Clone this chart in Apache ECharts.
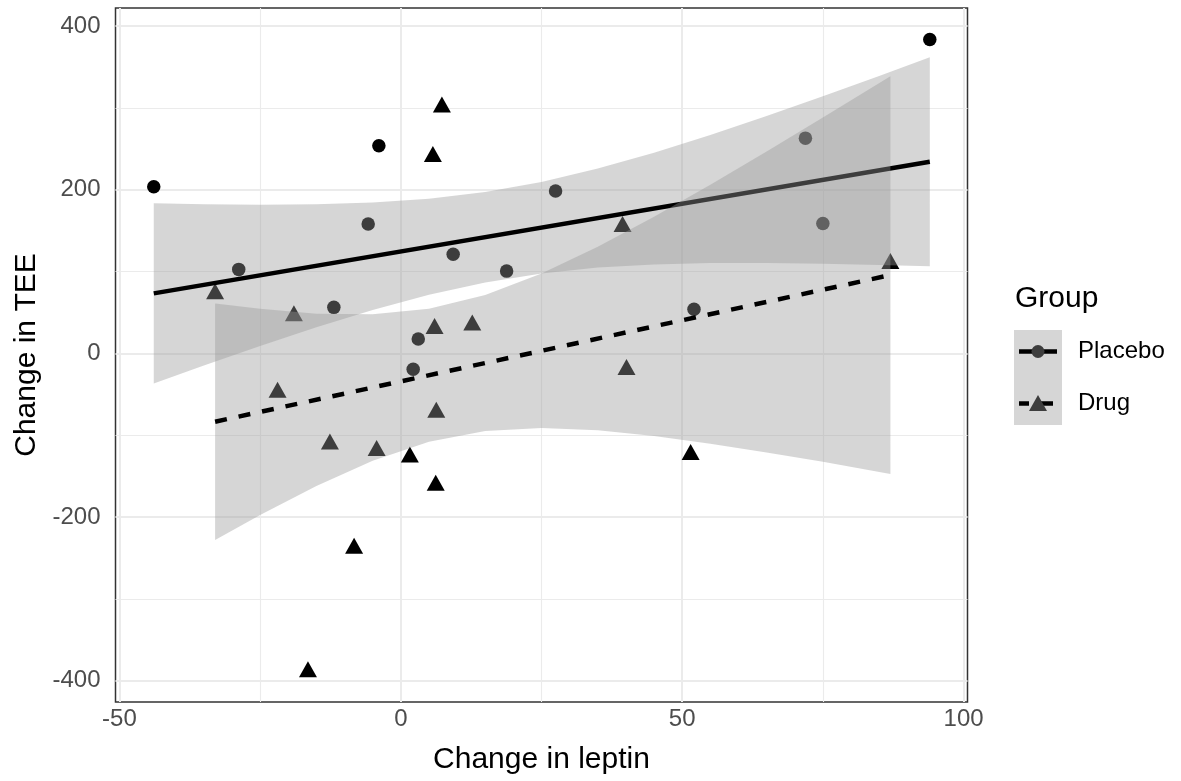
<!DOCTYPE html>
<html>
<head>
<meta charset="utf-8">
<script src="https://cdn.jsdelivr.net/npm/echarts@6/dist/echarts.min.js"></script>
<style>
  html, body { margin: 0; padding: 0; background: #fff; }
  #chart { width: 1181px; height: 781px; }
</style>
</head>
<body>
<div id="chart"></div>
<script>
// points
var placeboX = [-43.9, -28.8, -11.9, -3.9, -5.8, 9.3, 3.1, 2.2, 18.8, 27.5, 52.1, 71.9, 75.0, 94.0];
var placeboY = [203.5, 102.6, 56.2, 253.6, 158.0, 121.0, 17.5, -19.4, 100.5, 198.3, 53.8, 263.0, 158.8, 383.6];
var drugX = [7.3, 5.7, -33.0, -19.0, 6.0, 12.7, 39.4, 87.0, -21.9, 6.3, -12.6, -4.3, 1.6, 6.2, -8.3, -16.5, 40.1, 51.5];
var drugY = [304, 243.5, 76, 49, 33.4, 37.6, 158, 112.8, -44.6, -69, -107.8, -115.7, -123.6, -158.2, -235, -386, -16.7, -120.4];

// fitted lines (end points)
var placeboFitX = [-43.9, 94];
var placeboFitY = [73.3, 234.1];
var drugFitX = [-33, 87];
var drugFitY = [-83.5, 95.7];

// confidence bands
var placeboBandX = [-43.9, -35, -25, -15, -5, 5, 15, 25, 35, 45, 55, 65, 75, 85, 94];
var placeboLo = [-36.7, -14.8, 9.1, 31.9, 52.9, 71.6, 86.6, 97.7, 104.8, 108.6, 110.3, 110.4, 109.6, 108.0, 106.4];
var placeboHi = [183.3, 182.2, 181.5, 182.1, 184.3, 189.0, 197.2, 209.5, 225.8, 245.2, 266.9, 290.0, 314.2, 339.0, 361.8];
var drugBandX = [-33, -25, -15, -5, 5, 15, 25, 35, 45, 55, 65, 75, 87];
var drugLo = [-228, -197.6, -162.1, -131.1, -108, -94.9, -91.3, -94.1, -101, -110.3, -121, -132.5, -147.3];
var drugHi = [61, 54.4, 48.5, 47.9, 54.6, 71.3, 97.5, 130.3, 167, 206.1, 246.6, 288.1, 338.7];

// axis ticks
var xTicks = [-50, 0, 50, 100];
var yTicks = [-400, -200, 0, 200, 400];
var xMinor = [-25, 25, 75];
var yMinor = [-300, -100, 100, 300];

var FONT = 'Liberation Sans, Arial, sans-serif';
var ribbonFill = 'rgba(153,153,153,0.4)';

function zip (xs, ys) {
  return xs.map(function (x, i) { return [x, ys[i]]; });
}

function ribbon (xs, lo, hi, z) {
  return {
    type: 'custom',
    z: z,
    silent: true,
    data: [[xs[0], lo[0]]],
    renderItem: function (params, api) {
      var pts = [];
      for (var i = 0; i < xs.length; i++) pts.push(api.coord([xs[i], hi[i]]));
      for (var j = xs.length - 1; j >= 0; j--) pts.push(api.coord([xs[j], lo[j]]));
      return { type: 'polygon', shape: { points: pts }, style: { fill: ribbonFill } };
    }
  };
}

var gridLines = [];
xTicks.forEach(function (v) { gridLines.push({ xAxis: v, lineStyle: { width: 2 } }); });
yTicks.forEach(function (v) { gridLines.push({ yAxis: v, lineStyle: { width: 2 } }); });
xMinor.forEach(function (v) { gridLines.push({ xAxis: v, lineStyle: { width: 1.1 } }); });
yMinor.forEach(function (v) { gridLines.push({ yAxis: v, lineStyle: { width: 1.1 } }); });

var chart = echarts.init(document.getElementById('chart'));
chart.setOption({
  animation: false,
  grid: {
    left: 115.5, right: 213.5, top: 8, bottom: 79,
    show: true, backgroundColor: '#fff', borderColor: '#333', borderWidth: 1.5
  },
  xAxis: {
    type: 'value', min: -50.7, max: 100.7,
    name: 'Change in leptin', nameLocation: 'middle', nameGap: 43,
    nameTextStyle: { fontFamily: FONT, fontSize: 30, color: '#000' },
    axisLine: { show: false },
    axisTick: { show: true, length: 7, customValues: xTicks, lineStyle: { color: '#333', width: 1.5 } },
    axisLabel: { customValues: xTicks, fontFamily: FONT, fontSize: 24, color: '#4d4d4d', margin: 5 },
    splitLine: { show: false }
  },
  yAxis: {
    type: 'value', min: -426, max: 422,
    name: 'Change in TEE', nameLocation: 'middle', nameGap: 65,
    nameTextStyle: { fontFamily: FONT, fontSize: 30, color: '#000' },
    axisLine: { show: false },
    axisTick: { show: true, length: 7, customValues: yTicks, lineStyle: { color: '#333', width: 1.5 } },
    axisLabel: { customValues: yTicks, fontFamily: FONT, fontSize: 24, color: '#4d4d4d', margin: 15 },
    splitLine: { show: false }
  },
  series: [
    {
      type: 'line', z: 1, data: [], silent: true,
      markLine: {
        z: 1, silent: true, symbol: 'none', label: { show: false }, animation: false,
        lineStyle: { color: '#ebebeb', type: 'solid' },
        data: gridLines
      }
    },
    {
      name: 'Placebo', type: 'scatter', z: 2, data: zip(placeboX, placeboY),
      symbol: 'circle', symbolSize: 13.5, itemStyle: { color: '#000', opacity: 1 }
    },
    {
      name: 'Drug', type: 'scatter', z: 2, data: zip(drugX, drugY),
      symbol: 'triangle', symbolSize: [18, 16], itemStyle: { color: '#000', opacity: 1 }
    },
    ribbon(placeboBandX, placeboLo, placeboHi, 3),
    {
      type: 'line', z: 4, data: zip(placeboFitX, placeboFitY), showSymbol: false, silent: true,
      lineStyle: { color: '#000', width: 4.5, cap: 'butt' }
    },
    ribbon(drugBandX, drugLo, drugHi, 5),
    {
      type: 'line', z: 6, data: zip(drugFitX, drugFitY), showSymbol: false, silent: true,
      lineStyle: { color: '#000', width: 4.5, type: [12, 12], cap: 'butt' }
    }
  ],
  graphic: [
    { type: 'text', left: 1015, top: 284, style: { text: 'Group', font: '30px ' + FONT, fill: '#000' } },
    { type: 'rect', shape: { x: 1014, y: 330, width: 48, height: 95 }, style: { fill: '#d6d6d6' } },
    { type: 'line', shape: { x1: 1019, y1: 351.5, x2: 1057, y2: 351.5 }, style: { stroke: '#000', lineWidth: 4.5 } },
    { type: 'circle', shape: { cx: 1038, cy: 351.5, r: 6.5 }, style: { fill: '#3d3d3d' } },
    { type: 'line', shape: { x1: 1019, y1: 403.5, x2: 1057, y2: 403.5 }, style: { stroke: '#000', lineWidth: 4.5, lineDash: [12, 12], lineDashOffset: 2 } },
    { type: 'polygon', shape: { points: [[1038, 395], [1047, 411], [1029, 411]] }, style: { fill: '#3d3d3d' } },
    { type: 'text', left: 1078, top: 339, style: { text: 'Placebo', font: '24px ' + FONT, fill: '#000' } },
    { type: 'text', left: 1078, top: 391, style: { text: 'Drug', font: '24px ' + FONT, fill: '#000' } }
  ]
});
</script>
</body>
</html>
